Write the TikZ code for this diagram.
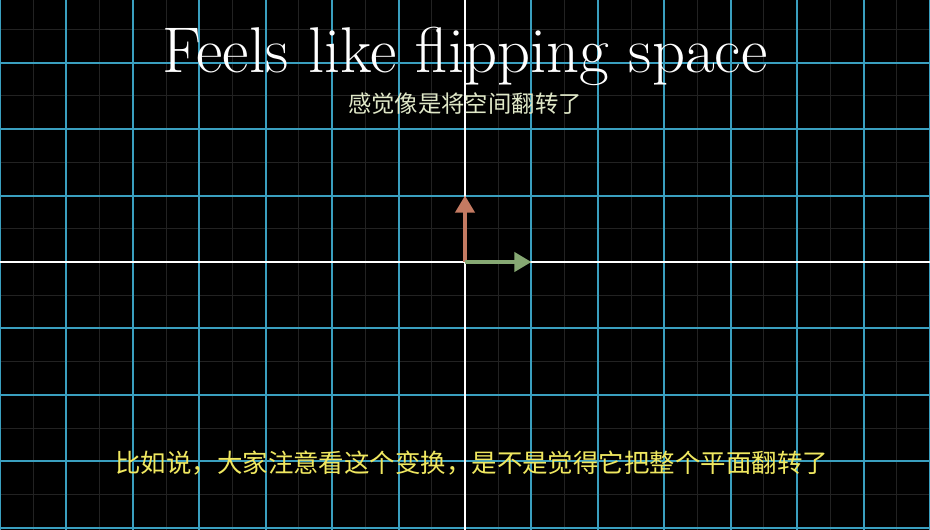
\documentclass[tikz,border=0pt]{standalone}
\usepackage{fontspec}
\newfontfamily\cjk{Noto Sans CJK SC}
\usetikzlibrary{arrows.meta}
\definecolor{gridblue}{RGB}{58,159,191}
\definecolor{minorgray}{RGB}{34,34,34}
\definecolor{ihat}{RGB}{134,168,115}
\definecolor{jhat}{RGB}{196,122,98}
\definecolor{subpale}{RGB}{224,232,200}
\definecolor{subyellow}{RGB}{240,232,96}
\tikzset{
	vec/.style = {line width=1.85pt, -{Triangle[length=7.3pt,width=8.1pt]}},
	subtitle/.style = {font=\cjk\fontsize{10}{12}\selectfont}
}
\begin{document}
\begin{tikzpicture}
	\useasboundingbox (-7,-4.034) rectangle (7,3.944);
	\fill [black] (-7,-4.034) rectangle (7,3.944);
	\draw [minorgray, line width=0.43pt, step=0.5] (-7,-4.034) grid (7,3.944);
	\draw [gridblue, line width=0.9pt, step=1] (-7,-4.034) grid (7,3.944);
	\draw [white, line width=0.6pt] (0,-4.034) -- (0,3.944);
	\draw [white, line width=0.9pt] (-7,0) -- (7,0);
	\coordinate (o) at (0,0);
	\coordinate (i) at (1,0);
	\coordinate (j) at (0,1);
	\draw [vec, jhat] (o) -- (j);
	\draw [vec, ihat] (o) -- (i);
	\node [white, anchor=base, font=\fontsize{27.7}{33}\selectfont] (title) at (0,2.85) {Feels like flipping space};
	\node [subpale, subtitle] (sub) at (0,2.39) {感觉像是将空间翻转了};
	\node [subyellow, subtitle, font=\cjk\fontsize{10.9}{13}\selectfont] (caption) at (0.1,-3.03) {比如说，大家注意看这个变换，是不是觉得它把整个平面翻转了};
\end{tikzpicture}
\end{document}
